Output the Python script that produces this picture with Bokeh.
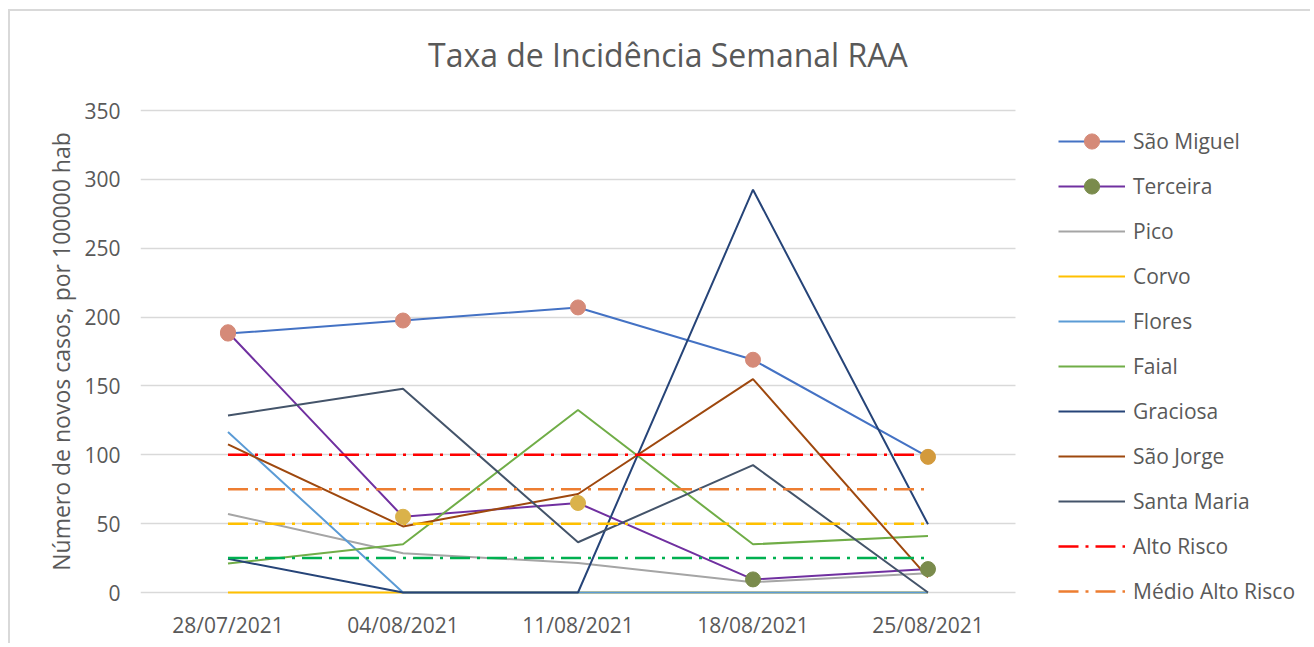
from bokeh.plotting import figure
from bokeh.models import Range1d, Legend, LegendItem, FixedTicker, BoxAnnotation
from bokeh.embed import file_html
from bokeh.resources import INLINE

# ---------------- data ----------------
dates = ["28/07/2021", "04/08/2021", "11/08/2021", "18/08/2021", "25/08/2021"]
sao_miguel = [188, 197.5, 207, 169, 98.5]
terceira = [189, 55, 65, 9.5, 17]
pico = [57, 28.5, 21.5, 7.5, 14]
corvo = [0, 0, 0, 0, 0]
flores = [116.5, 0, 0, 0, 0]
faial = [21, 35, 132.5, 35, 41]
graciosa = [24.5, 0, 0, 292.5, 49.5]
sao_jorge = [107.5, 48, 71.5, 155, 11]
santa_maria = [128.5, 148, 36.5, 92.5, 0]
alto_risco = [100, 100, 100, 100, 100]
medio_alto_risco = [75, 75, 75, 75, 75]
medio_risco = [50, 50, 50, 50, 50]
baixo_risco = [25, 25, 25, 25, 25]
y_ticks = [0, 50, 100, 150, 200, 250, 300, 350]
legend_names = ["São Miguel", "Terceira", "Pico", "Corvo", "Flores", "Faial", "Graciosa",
                "São Jorge", "Santa Maria", "Alto Risco", "Médio Alto Risco"]
title_text = "Taxa de Incidência Semanal RAA"
y_label = "Número de novos casos, por 100000 hab"

# category positions on the x scale (one unit per category, centred)
xs = [i + 0.5 for i in range(len(dates))]

# ---------------- styles ----------------
FONT = "Open Sans"
TXT = "#595959"
SALMON = "#D58A78"
GOLD = "#DAB24A"
AMBER = "#D39A3C"
OLIVE = "#7A8B4C"
sm_marker_colors = [SALMON, SALMON, SALMON, SALMON, AMBER]
te_marker_colors = [SALMON, GOLD, GOLD, OLIVE, OLIVE]
DASHDOT = "20 7 3 7"

W, H = 1302, 634
LEFT = 130                      # frame left (px)
CAT_PX = 175                    # width of one category (px)
PX_PER_UNIT = 482 / 350         # vertical scale (px per value unit)
FRAME_TOP = 81                  # frame top in canvas px
FRAME_BOTTOM = 599              # frame bottom in canvas px
ZERO_Y = 581                    # value 0 in canvas px
TOP_Y = 99                      # value 350 in canvas px

y_lo = -(FRAME_BOTTOM - ZERO_Y) / PX_PER_UNIT
y_hi = 350 + (TOP_Y - FRAME_TOP) / PX_PER_UNIT

p = figure(width=W, height=H,
           x_range=Range1d(0, (W - LEFT) / CAT_PX),
           y_range=Range1d(y_lo, y_hi),
           output_backend="svg", toolbar_location=None,
           min_border_left=LEFT, min_border_right=0,
           min_border_top=FRAME_TOP, min_border_bottom=H - FRAME_BOTTOM)
p.outline_line_color = None
p.margin = (9, 0, 0, 8)
p.styles = {"border-left": "2px solid #D9D9D9", "border-top": "2px solid #D9D9D9"}

# title
p.title.text = title_text
p.title.text_font = FONT
p.title.text_font_size = "32px"
p.title.text_font_style = "normal"
p.title.text_color = TXT
p.title.align = "left"
p.title.offset = 287.5
p.title.standoff = 33

# axes
for ax in (p.xaxis, p.yaxis):
    ax.axis_line_color = None
    ax.major_tick_line_color = None
    ax.minor_tick_line_color = None
    ax.major_tick_out = 0
    ax.major_tick_in = 0
    ax.major_label_text_font = FONT
    ax.major_label_text_font_size = "21px"
    ax.major_label_text_color = TXT
p.xaxis.ticker = FixedTicker(ticks=xs)
p.xaxis.major_label_overrides = {x: d for x, d in zip(xs, dates)}
p.xaxis.major_label_standoff = 0
p.yaxis.ticker = FixedTicker(ticks=y_ticks)
p.yaxis.major_label_standoff = 20
p.yaxis.axis_label = y_label
p.yaxis.axis_label_text_font = FONT
p.yaxis.axis_label_text_font_size = "23px"
p.yaxis.axis_label_text_font_style = "normal"
p.yaxis.axis_label_text_color = TXT
p.yaxis.axis_label_standoff = 4

p.xgrid.visible = False
p.ygrid.grid_line_color = "#D9D9D9"
p.ygrid.grid_line_width = 1.5

series = [
    ("São Miguel", sao_miguel, "#4472C4"),
    ("Terceira", terceira, "#7030A0"),
    ("Pico", pico, "#A5A5A5"),
    ("Corvo", corvo, "#FFC000"),
    ("Flores", flores, "#5B9BD5"),
    ("Faial", faial, "#70AD47"),
    ("Graciosa", graciosa, "#264478"),
    ("São Jorge", sao_jorge, "#9E480E"),
    ("Santa Maria", santa_maria, "#44546A"),
]
risk = [
    ("Alto Risco", alto_risco, "#FF0000"),
    ("Médio Alto Risco", medio_alto_risco, "#ED7D31"),
    (None, medio_risco, "#FFC000"),
    (None, baixo_risco, "#00B050"),
]
renderers = {}
for name, vals, col in series:
    renderers[name] = p.line(xs, vals, line_color=col, line_width=2)
for name, vals, col in risk:
    r = p.line(xs, vals, line_color=col, line_width=2.5, line_dash=DASHDOT)
    if name:
        renderers[name] = r

# markers
p.scatter(xs, sao_miguel, size=15, fill_color=sm_marker_colors, line_color=sm_marker_colors)
p.scatter(xs, terceira, size=15, fill_color=te_marker_colors, line_color=te_marker_colors)

# hide gridlines to the right of the category area (legend zone)
p.add_layout(BoxAnnotation(left=len(dates), fill_color="white", fill_alpha=1,
                           line_alpha=0, level="annotation"))

# legend
nan = float("nan")
marker_col = {"São Miguel": SALMON, "Terceira": OLIVE}
items = []
for name in legend_names:
    rs = [renderers[name]]
    if name in marker_col:
        c = marker_col[name]
        rs.append(p.scatter([nan], [nan], size=15, fill_color=c, line_color=c))
    items.append(LegendItem(label=name, renderers=rs))

legend = Legend(items=items, location=(918, 0), orientation="vertical",
                glyph_width=67, glyph_height=38, label_height=38, spacing=7,
                label_standoff=8, padding=0, margin=0,
                border_line_color=None, background_fill_alpha=0,
                label_text_font=FONT, label_text_font_size="21px",
                label_text_color=TXT)
p.add_layout(legend, "center")

open("out.html", "w").write(file_html(p, INLINE))
